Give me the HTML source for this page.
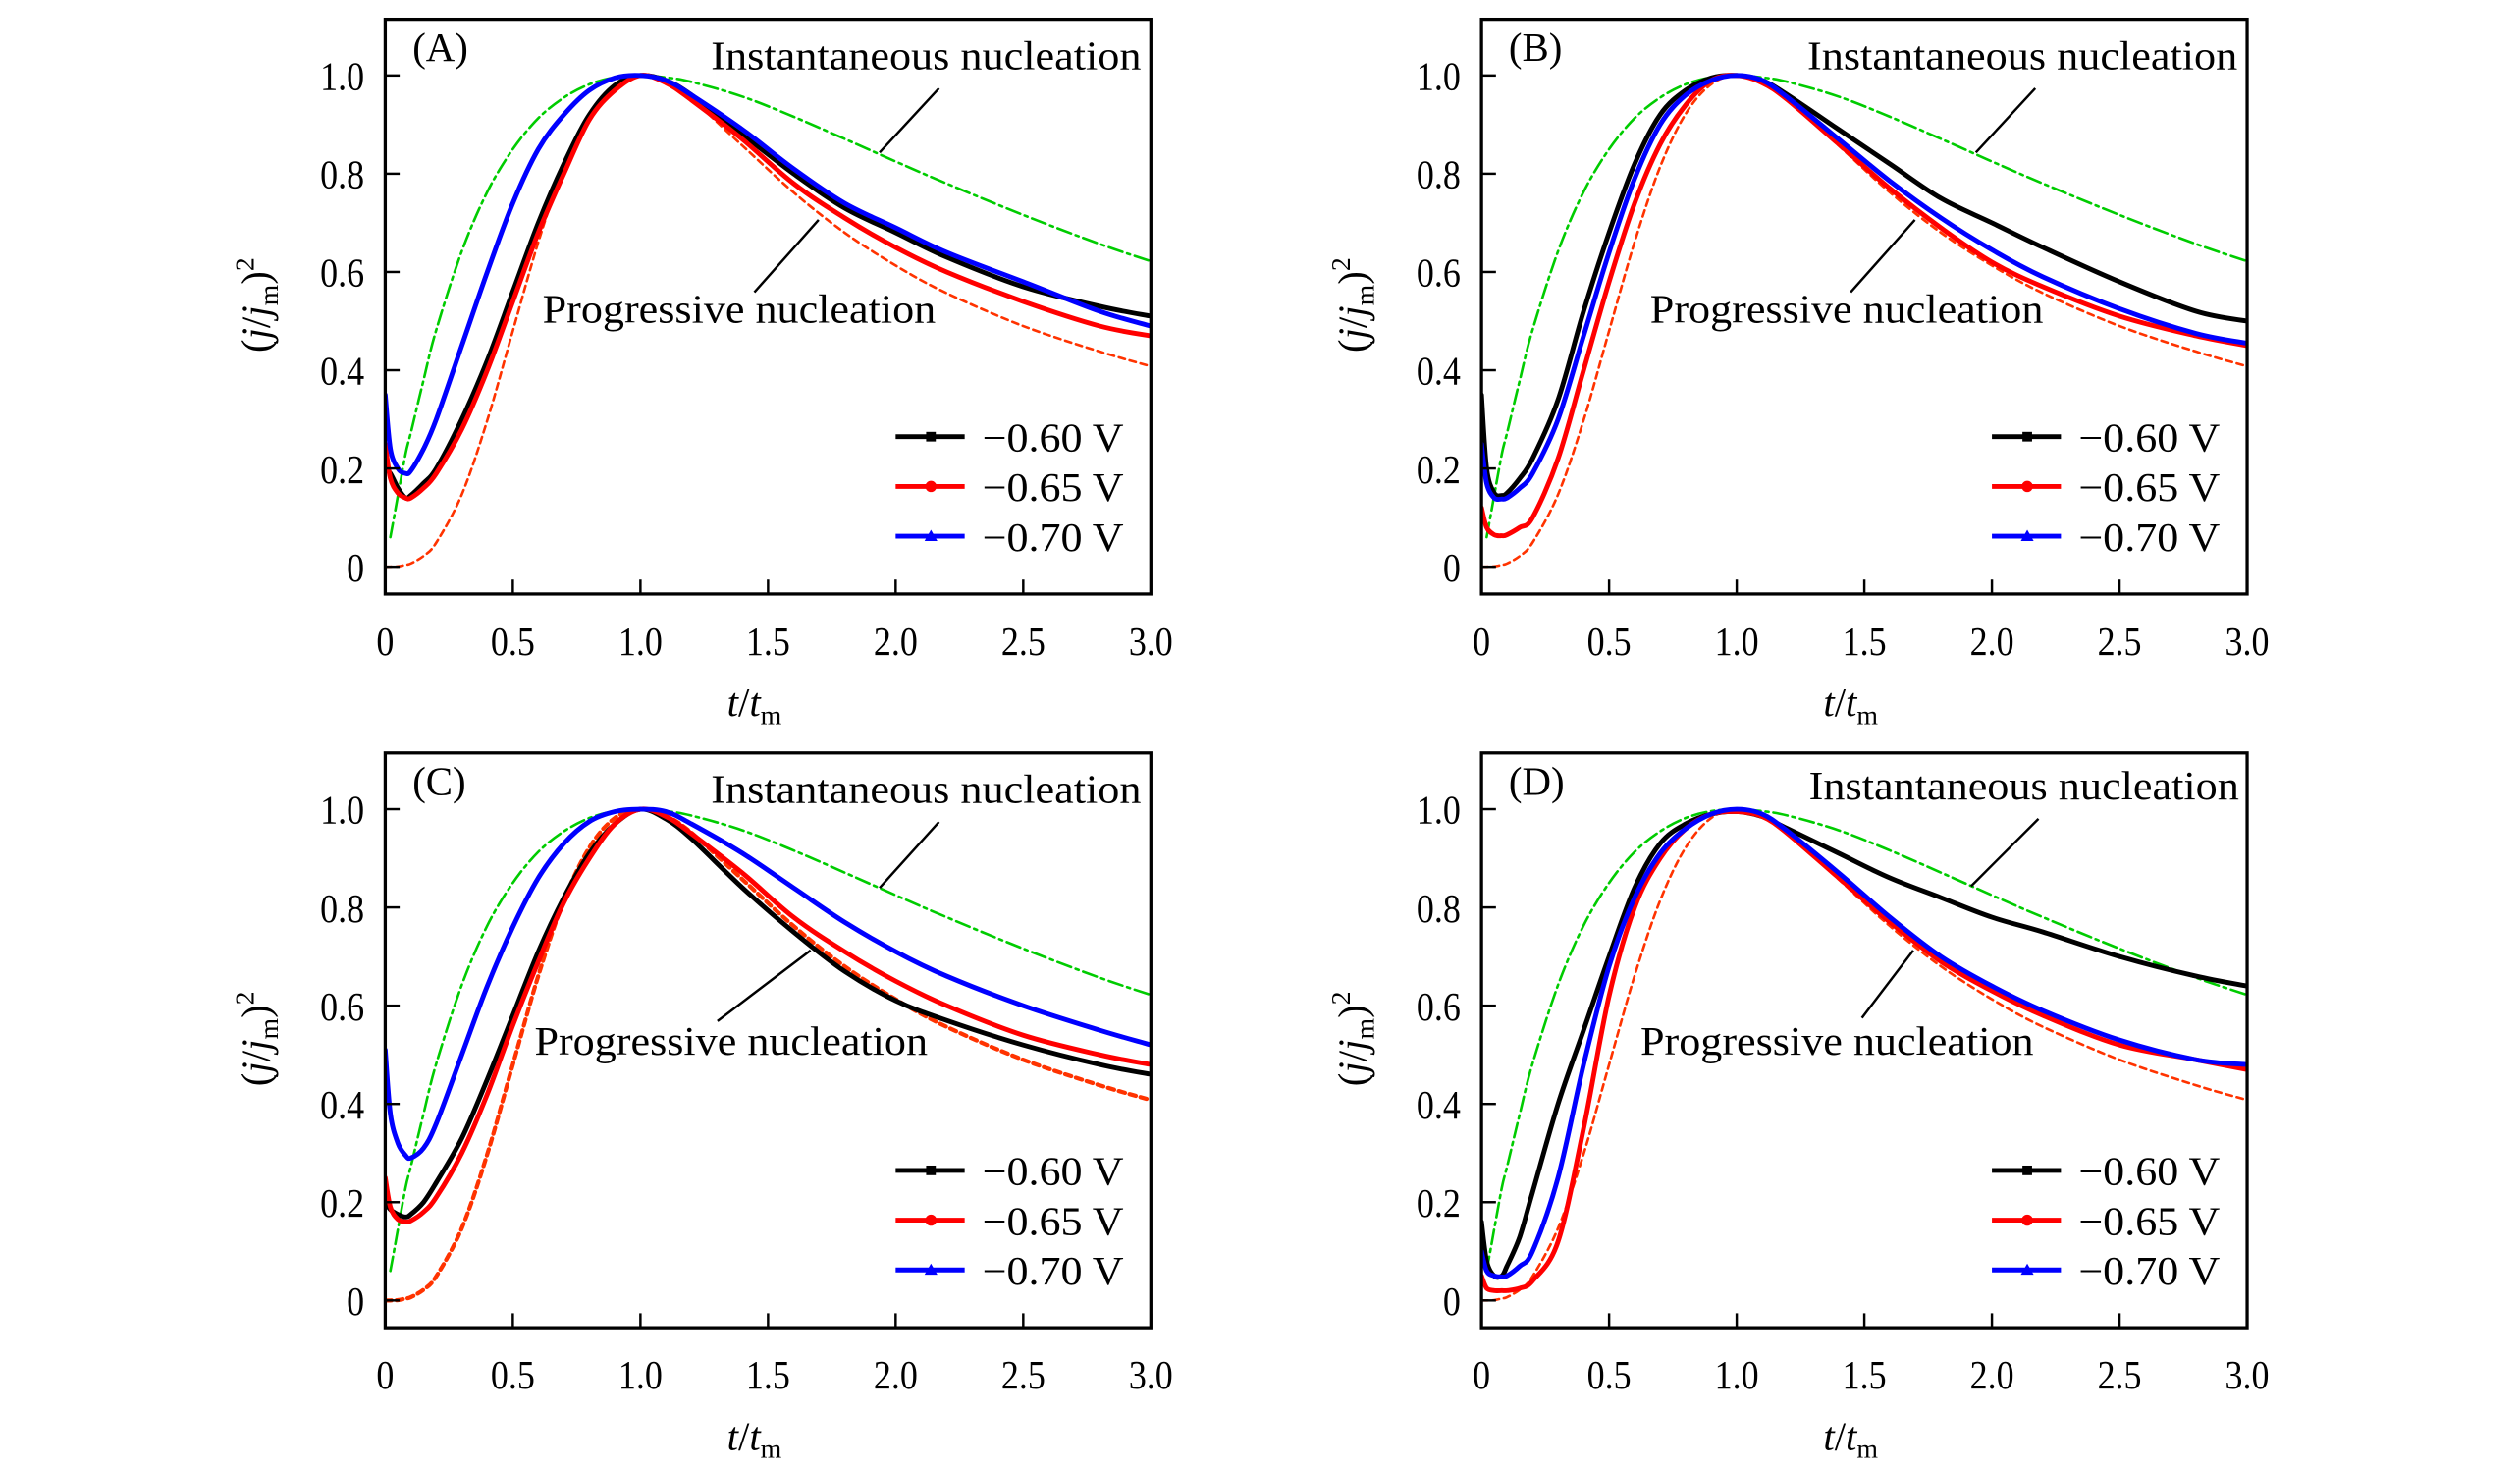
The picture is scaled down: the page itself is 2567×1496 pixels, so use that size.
<!DOCTYPE html>
<html><head><meta charset="utf-8"><style>
html,body{margin:0;padding:0;background:#fff;}
svg{display:block;font-family:"Liberation Serif",serif;}
</style></head><body>
<svg id="fig" width="2567" height="1496" viewBox="0 0 1570 915" preserveAspectRatio="none" xmlns="http://www.w3.org/2000/svg"></svg>
<script>
// shared x samples
const tVals = [0,0.02,0.05,0.08,0.1,0.15,0.2,0.3,0.4,0.5,0.6,0.7,0.8,0.9,1.0,1.1,1.2,1.4,1.6,1.8,2.0,2.2,2.5,2.8,3.0];
// theoretical curves
const instVals = [null,0.06,0.145,0.23,0.272,0.38,0.482,0.642,0.763,0.85,0.913,0.955,0.982,0.996,1.0,0.996,0.987,0.957,0.916,0.871,0.825,0.78,0.716,0.657,0.622];
const progVals = [0,0.0001,0.0008,0.004,0.0065,0.022,0.049,0.147,0.298,0.48,0.661,0.814,0.922,0.982,1.0,0.986,0.952,0.857,0.762,0.68,0.613,0.557,0.49,0.438,0.408];
// panel A
const A_060 = [0.2,0.19,0.16,0.14,0.145,0.17,0.2,0.3,0.42,0.56,0.7,0.82,0.92,0.98,1.0,0.99,0.96,0.88,0.8,0.73,0.68,0.63,0.57,0.53,0.51];
const A_065 = [0.25,0.18,0.15,0.14,0.14,0.16,0.19,0.28,0.4,0.54,0.68,0.8,0.91,0.97,1.0,0.985,0.95,0.87,0.78,0.71,0.65,0.6,0.54,0.49,0.47];
const A_070 = [0.35,0.24,0.2,0.19,0.195,0.24,0.3,0.45,0.6,0.74,0.85,0.92,0.97,0.995,1.0,0.99,0.96,0.89,0.81,0.74,0.69,0.64,0.58,0.52,0.49];
// panel B
const B_060 = [0.35,0.2,0.15,0.145,0.15,0.18,0.22,0.34,0.52,0.68,0.82,0.92,0.97,0.995,1.0,0.99,0.96,0.89,0.82,0.75,0.7,0.65,0.58,0.52,0.5];
const B_065 = [0.12,0.08,0.065,0.063,0.065,0.08,0.1,0.22,0.4,0.58,0.74,0.86,0.94,0.99,1.0,0.985,0.95,0.86,0.77,0.69,0.62,0.57,0.51,0.47,0.45];
const B_070 = [0.25,0.17,0.14,0.138,0.14,0.16,0.19,0.3,0.47,0.64,0.79,0.9,0.96,0.99,1.0,0.99,0.955,0.87,0.785,0.71,0.645,0.59,0.525,0.475,0.455];
// panel C
const C_060 = [0.2,0.185,0.175,0.17,0.175,0.2,0.24,0.33,0.45,0.58,0.71,0.82,0.91,0.97,1.0,0.98,0.94,0.84,0.75,0.67,0.61,0.57,0.52,0.48,0.46];
const C_065 = [0.25,0.19,0.165,0.16,0.162,0.18,0.21,0.3,0.42,0.56,0.69,0.81,0.9,0.97,1.0,0.985,0.95,0.87,0.78,0.71,0.65,0.6,0.54,0.5,0.48];
const C_070 = [0.51,0.38,0.32,0.295,0.29,0.31,0.36,0.5,0.64,0.76,0.86,0.93,0.975,0.995,1.0,0.995,0.97,0.91,0.84,0.77,0.71,0.66,0.6,0.55,0.52];
// panel D
const D_060 = [0.16,0.08,0.05,0.05,0.07,0.13,0.22,0.4,0.55,0.7,0.84,0.93,0.97,0.99,0.995,0.985,0.96,0.91,0.86,0.82,0.78,0.75,0.7,0.66,0.64];
const D_065 = [0.05,0.025,0.02,0.02,0.02,0.025,0.04,0.12,0.35,0.62,0.8,0.9,0.96,0.99,0.995,0.985,0.95,0.86,0.77,0.69,0.63,0.58,0.52,0.49,0.47];
const D_070 = [0.1,0.06,0.05,0.048,0.05,0.07,0.1,0.25,0.48,0.68,0.82,0.91,0.96,0.99,1.0,0.99,0.955,0.87,0.78,0.7,0.64,0.59,0.53,0.49,0.48];

const xTicks = [0,0.5,1.0,1.5,2.0,2.5,3.0];
const xTickLabels = ["0","0.5","1.0","1.5","2.0","2.5","3.0"];
const yTicks = [0,0.2,0.4,0.6,0.8,1.0];
const yTickLabels = ["0","0.2","0.4","0.6","0.8","1.0"];
const legendLabels = ["\u22120.60 V","\u22120.65 V","\u22120.70 V"];
const seriesColors = ["#000000","#ff0000","#0000ff"];

const NS = "http://www.w3.org/2000/svg";
const svg = document.getElementById('fig');
function mk(tag, attrs, parent, text){
  const e = document.createElementNS(NS, tag);
  for (const k in attrs) e.setAttribute(k, attrs[k]);
  if (text !== undefined) e.textContent = text;
  (parent||svg).appendChild(e);
  return e;
}

const panels = [
  {id:'a', label:'(A)', ox:0, oy:0, series:[A_060,A_065,A_070], progW:1.6,
   inst:{tx:443,ty:43,l:[585,55,548,95]}, prog:{tx:338,ty:201,l:[510,137,470,182]}},
  {id:'b', label:'(B)', ox:683, oy:0, series:[B_060,B_065,B_070], progW:1.6,
   inst:{tx:443,ty:43,l:[585,55,548,95]}, prog:{tx:345,ty:201,l:[510,137,470,182]}},
  {id:'c', label:'(C)', ox:0, oy:457, series:[C_060,C_065,C_070], progW:2.6,
   inst:{tx:443,ty:43,l:[585,55,548,96]}, prog:{tx:333,ty:200,l:[505,135,447,179]}},
  {id:'d', label:'(D)', ox:683, oy:457, series:[D_060,D_065,D_070], progW:1.6,
   inst:{tx:444,ty:41,l:[587,53,545,95]}, prog:{tx:339,ty:200,l:[509,135,477,177]}}
];

panels.forEach(p => {
  const g = mk('g', {transform:`translate(${p.ox},${p.oy})`});
  
  
  const L=240, R=717, T=12, B=370;
  const xs = v => L + v/3.0*(R-L);
  const ys = v => 353 - v*306;
  const clip = 'clip-' + p.id;
  const defs = mk('defs', {}, g);
  const cp = mk('clipPath', {id:clip}, defs);
  mk('rect', {x:L, y:T, width:R-L, height:B-T}, cp);
  const cg = mk('g', {'clip-path':`url(#${clip})`}, g);
  function path(vals, color, w, dash, name){
    const pts = [];
    vals.forEach((v,i)=>{ if(v===null) return; pts.push([xs(tVals[i]), ys(v)]); });
    // Catmull-Rom smoothing
    let d = 'M' + pts[0][0].toFixed(1) + ',' + pts[0][1].toFixed(1);
    for (let i=0;i<pts.length-1;i++){
      const p0 = pts[Math.max(0,i-1)], p1 = pts[i], p2 = pts[i+1], p3 = pts[Math.min(pts.length-1,i+2)];
      const c1 = [p1[0]+(p2[0]-p0[0])/6, p1[1]+(p2[1]-p0[1])/6];
      const c2 = [p2[0]-(p3[0]-p1[0])/6, p2[1]-(p3[1]-p1[1])/6];
      d += 'C' + c1[0].toFixed(1)+','+c1[1].toFixed(1)+' '+c2[0].toFixed(1)+','+c2[1].toFixed(1)+' '+p2[0].toFixed(1)+','+p2[1].toFixed(1);
    }
    const e = mk('path', {d:d, fill:'none', stroke:color, 'stroke-width':w, 'stroke-linejoin':'round', 'stroke-linecap':'round'}, cg);
    if (dash) e.setAttribute('stroke-dasharray', dash);
    
    
  }
  path(progVals, '#ff3300', p.progW, '4,3', 'progressive-curve');
  path(instVals, '#00cc00', 1.6, '9,3,2,3', 'instantaneous-curve');
  p.series.forEach((s,i)=>{ path(s, seriesColors[i], 3, null, 'series-' + ['060','065','070'][i]); });
  const fr = mk('rect', {x:L, y:T, width:R-L, height:B-T, fill:'none', stroke:'#000', 'stroke-width':2}, g);
  
  
  xTicks.forEach((v,i)=>{
    mk('line', {x1:xs(v), x2:xs(v), y1:B, y2:B-9, stroke:'#000', 'stroke-width':1.5}, g);
    const t = mk('text', {x:xs(v), y:408, 'font-size':25, 'text-anchor':'middle', transform:`translate(${xs(v)},0) scale(0.88,1) translate(${-xs(v)},0)`}, g, xTickLabels[i]);
    
    
  });
  yTicks.forEach((v,i)=>{
    mk('line', {x1:L, x2:L+9, y1:ys(v), y2:ys(v), stroke:'#000', 'stroke-width':1.5}, g);
    const t = mk('text', {x:227, y:ys(v)+9, 'font-size':25, 'text-anchor':'end', transform:'translate(227,0) scale(0.88,1) translate(-227,0)'}, g, yTickLabels[i]);
    
    
  });
  const xt = mk('text', {x:470, y:446, 'font-size':25, 'text-anchor':'middle'}, g);
  
  
  mk('tspan', {'font-style':'italic'}, xt, 't');
  mk('tspan', {}, xt, '/');
  mk('tspan', {'font-style':'italic'}, xt, 't');
  mk('tspan', {'font-size':17, dy:5}, xt, 'm');
  const yt = mk('text', {transform:'translate(168,190) rotate(-90)', 'font-size':25, 'text-anchor':'middle'}, g);
  
  
  mk('tspan', {}, yt, '(');
  mk('tspan', {'font-style':'italic'}, yt, 'j');
  mk('tspan', {}, yt, '/');
  mk('tspan', {'font-style':'italic'}, yt, 'j');
  mk('tspan', {'font-size':17, dy:5}, yt, 'm');
  mk('tspan', {dy:-5}, yt, ')');
  mk('tspan', {'font-size':17, dy:-10}, yt, '2');
  const pl = mk('text', {x:257, y:38, 'font-size':25}, g, p.label);
  
  
  const it = mk('text', {x:p.inst.tx, y:p.inst.ty, 'font-size':25, textLength:268, lengthAdjust:'spacingAndGlyphs'}, g, 'Instantaneous nucleation');
  
  
  mk('line', {x1:p.inst.l[0], y1:p.inst.l[1], x2:p.inst.l[2], y2:p.inst.l[3], stroke:'#000', 'stroke-width':1.5}, g);
  const pt = mk('text', {x:p.prog.tx, y:p.prog.ty, 'font-size':25, textLength:245, lengthAdjust:'spacingAndGlyphs'}, g, 'Progressive nucleation');
  
  
  mk('line', {x1:p.prog.l[0], y1:p.prog.l[1], x2:p.prog.l[2], y2:p.prog.l[3], stroke:'#000', 'stroke-width':1.5}, g);
  const lg = mk('g', {}, g);
  
  
  legendLabels.forEach((lab,i)=>{
    const y = 272 + i*31;
    const le = mk('g', {}, lg);
    
    
    mk('line', {x1:558, x2:601, y1:y, y2:y, stroke:seriesColors[i], 'stroke-width':3}, le);
    if (i===0) mk('rect', {x:577, y:y-3, width:6, height:6, fill:seriesColors[i]}, le);
    if (i===1) mk('circle', {cx:580, cy:y, r:3.5, fill:seriesColors[i]}, le);
    if (i===2) mk('path', {d:`M576,${y+3}L580,${y-4}L584,${y+3}Z`, fill:seriesColors[i]}, le);
    mk('text', {x:612, y:y+9, 'font-size':25, textLength:88, lengthAdjust:'spacingAndGlyphs'}, le, lab);
  });
});
</script>
</body></html>
